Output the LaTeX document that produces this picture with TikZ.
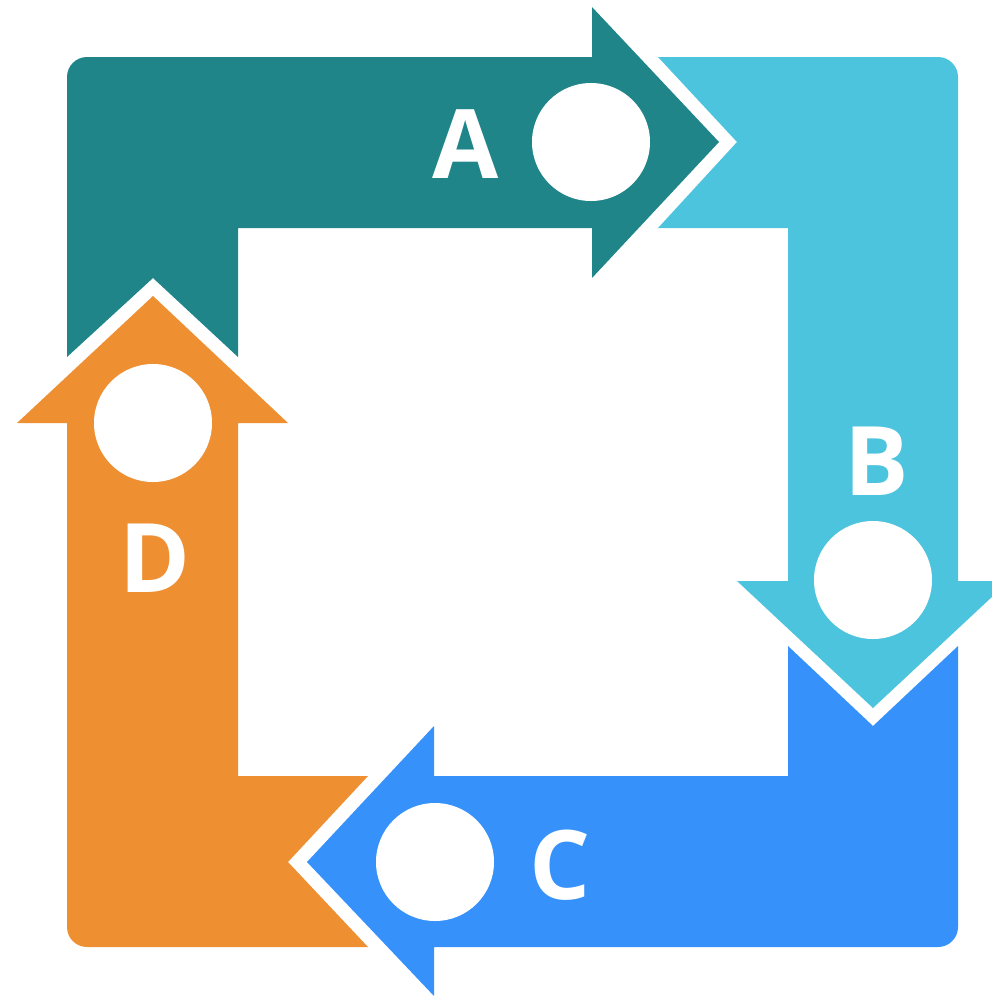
\documentclass[tikz,border=0pt]{standalone}
\usepackage{fontspec}
\newfontfamily\labelfont{Open Sans}

\definecolor{tealA}{RGB}{31,133,137}
\definecolor{cyanB}{RGB}{77,196,221}
\definecolor{blueC}{RGB}{54,146,250}
\definecolor{orangeD}{RGB}{238,143,50}

\begin{document}
\begin{tikzpicture}[x=0.75pt,y=0.75pt,yscale=-1,xscale=1,
	hole/.style={circle,fill=white,draw=none,inner sep=0pt,minimum size=88.5pt},
	letter/.style={text=white,inner sep=0pt,font=\labelfont\bfseries\fontsize{72}{72}\selectfont}]
	\useasboundingbox (0,0) rectangle (992,997);
	\clip (0,0) rectangle (992,997);

	% Shape A
	\fill [tealA] (67,357) -- (67,77) arc [start angle=180, end angle=270, radius=20] -- (592,57) -- (592,7) -- (719,142) -- (592,278) -- (592,228) -- (238,228) -- (238,357) -- (153,278) -- cycle ;
	% Shape B
	\fill [cyanB] (658,57) -- (938,57) arc [start angle=270, end angle=360, radius=20] -- (958,581) -- (1009,581) -- (873,708) -- (737,581) -- (788,581) -- (788,228) -- (658,228) -- (737,142) -- cycle ;
	% Shape C
	\fill [blueC] (958,646) -- (958,927) arc [start angle=0, end angle=90, radius=20] -- (434,947) -- (434,996) -- (307,862) -- (434,726) -- (434,776) -- (788,776) -- (788,646) -- (873,726) -- cycle ;
	% Shape D
	\fill [orangeD] (368,947) -- (87,947) arc [start angle=90, end angle=180, radius=20] -- (67,423) -- (17,423) -- (153,296) -- (288,423) -- (238,423) -- (238,776) -- (368,776) -- (288,862) -- cycle ;

	% Holes
	\node [hole] (holeA) at (591,142) {};
	\node [hole] (holeB) at (873,580) {};
	\node [hole] (holeC) at (435,862) {};
	\node [hole] (holeD) at (153,423) {};

	% Text Node
	\node [letter] (labelA) at (465.5,144.5) {A};
	% Text Node
	\node [letter] (labelB) at (877,461.5) {B};
	% Text Node
	\node [letter] (labelC) at (560.5,865) {C};
	% Text Node
	\node [letter] (labelD) at (155,558.5) {D};

\end{tikzpicture}
\end{document}
